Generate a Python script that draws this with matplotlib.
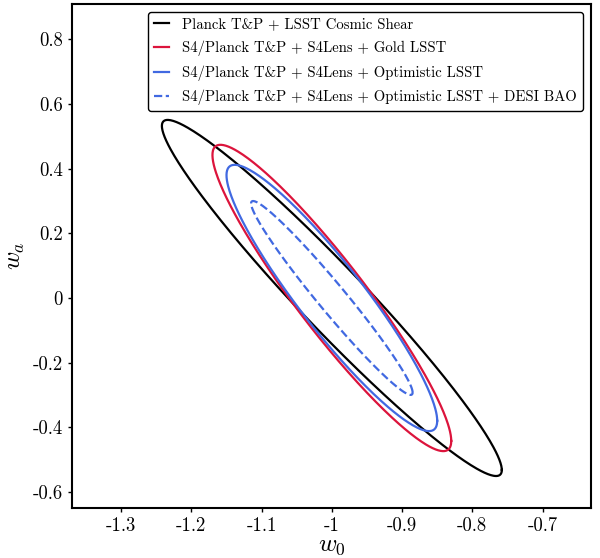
import numpy as np
import matplotlib
matplotlib.use("Agg")
import matplotlib.pyplot as plt

plt.rcParams['font.family'] = 'serif'
plt.rcParams['font.serif'] = ['cmr10', 'DejaVu Serif']
plt.rcParams['mathtext.fontset'] = 'cm'
plt.rcParams['axes.unicode_minus'] = False

# fiducial point and forecast contours (half-extent in w0, wa and correlation)
w0_fid, wa_fid = -1.0, 0.0
labels = [
    "Planck T&P + LSST Cosmic Shear",
    "S4/Planck T&P + S4Lens + Gold LSST",
    "S4/Planck T&P + S4Lens + Optimistic LSST",
    "S4/Planck T&P + S4Lens + Optimistic LSST + DESI BAO",
]
sig_w0 = [0.242, 0.170, 0.150, 0.115]
sig_wa = [0.551, 0.474, 0.412, 0.300]
rho = [-0.966, -0.933, -0.922, -0.975]
colors = ["black", "#DC143C", "#4169E1", "#4169E1"]
styles = ["-", "-", "-", "--"]

xticks = [-1.3, -1.2, -1.1, -1.0, -0.9, -0.8, -0.7]
xticklabels = ["-1.3", "-1.2", "-1.1", "-1", "-0.9", "-0.8", "-0.7"]
yticks = [0.8, 0.6, 0.4, 0.2, 0.0, -0.2, -0.4, -0.6]
yticklabels = ["0.8", "0.6", "0.4", "0.2", "0", "-0.2", "-0.4", "-0.6"]

fig = plt.figure(figsize=(6.0, 5.58), dpi=100)
ax = fig.add_axes([0.12, 0.0896, 0.865, 0.9034])

t = np.linspace(0, 2 * np.pi, 400)
for sx, sy, r, c, ls, lab in zip(sig_w0, sig_wa, rho, colors, styles, labels):
    x = w0_fid + sx * np.cos(t)
    y = wa_fid + sy * (r * np.cos(t) + np.sqrt(1 - r**2) * np.sin(t))
    ax.plot(x, y, color=c, ls=ls, lw=1.6, label=lab)

ax.set_xlim(-1.37, -0.631)
ax.set_ylim(-0.65, 0.91)
ax.set_xticks(xticks)
ax.set_xticklabels(xticklabels)
ax.set_yticks(yticks)
ax.set_yticklabels(yticklabels)
ax.tick_params(labelsize=13.5, direction='out', length=3, width=1, colors='black')
for sp in ax.spines.values():
    sp.set_linewidth(1.5)

ax.set_xlabel(r"$w_0$", fontsize=18, labelpad=0)
ax.set_ylabel(r"$w_a$", fontsize=18, labelpad=4)

leg = ax.legend(loc='upper right', fontsize=10.6, frameon=True, fancybox=True,
                edgecolor='black', framealpha=1, handlelength=1.0,
                handletextpad=0.9, borderaxespad=0.55, labelspacing=0.62)
leg.get_frame().set_linewidth(1.0)

fig.savefig("out.png", dpi=100)
